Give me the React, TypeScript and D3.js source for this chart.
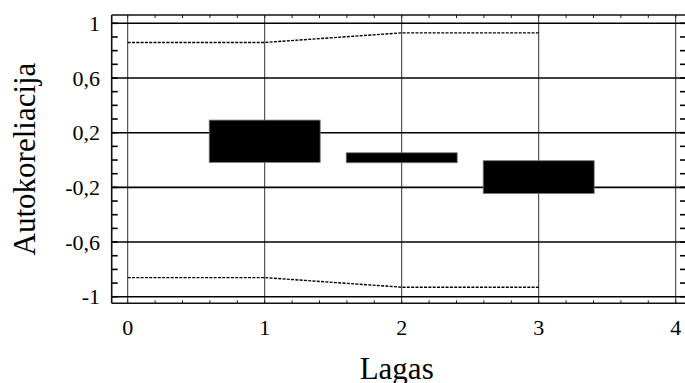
import React from "react";
import * as d3 from "d3";

// autocorrelation bars (bottom/top of each block)
const lags = [1, 2, 3];
const barLow = [-0.017, -0.02, -0.245];
const barHigh = [0.292, 0.053, -0.005];

// confidence limits (dotted lines)
const limitLags = [0, 1, 2, 3];
const upperLimit = [0.86, 0.86, 0.93, 0.93];
const lowerLimit = [-0.86, -0.86, -0.93, -0.93];

const xTicks = [0, 1, 2, 3, 4];
const yTicks = [1, 0.6, 0.2, -0.2, -0.6, -1];
const yTickLabels = ["1", "0,6", "0,2", "-0,2", "-0,6", "-1"];

const W = 685;
const H = 383;
const font = "'Liberation Serif', 'Times New Roman', serif";

const App = () => {
  const x = d3.scaleLinear().domain([0, 4]).range([127.7, 675.7]);
  const y = d3.scaleLinear().domain([-1, 1]).range([296.75, 23.3]);

  const frameL = 111.7;
  const frameT = 15;
  const frameB = 303.3;
  const frameR = 692;

  const line = d3
    .line<number>()
    .x((_, i) => x(limitLags[i]))
    .y((d) => y(d));

  const xMinor = d3.range(-0.4, 4.6, 0.2).filter((v) => x(v) > frameL + 1);
  const yMinor = d3.range(-1, 1.05, 0.1);

  return (
    <svg
      width={W}
      height={H}
      style={{ position: "absolute", left: 0, top: 0, background: "#fff" }}
    >
      {/* vertical grid */}
      <g stroke="#333" strokeWidth={1}>
        {xTicks.map((t) => (
          <line key={t} x1={x(t)} x2={x(t)} y1={frameT} y2={frameB} />
        ))}
      </g>

      {/* horizontal grid */}
      <g stroke="#000" strokeWidth={1.6}>
        {yTicks.map((t) => (
          <line key={t} x1={frameL} x2={frameR} y1={y(t)} y2={y(t)} />
        ))}
      </g>

      {/* x minor ticks, top and bottom */}
      <g stroke="#222" strokeWidth={1}>
        {xMinor.map((t, i) => (
          <g key={i}>
            <line x1={x(t)} x2={x(t)} y1={frameT} y2={frameT + 3} />
            <line x1={x(t)} x2={x(t)} y1={frameB} y2={frameB - 3} />
          </g>
        ))}
      </g>

      {/* y minor ticks */}
      <g stroke="#000" strokeWidth={1.6}>
        {yMinor.map((t, i) => (
          <g key={i}>
            <line x1={frameL} x2={frameL + 6} y1={y(t)} y2={y(t)} />
            <line x1={680} x2={686} y1={y(t)} y2={y(t)} />
          </g>
        ))}
      </g>

      {/* confidence limits */}
      <g fill="none" stroke="#000" strokeWidth={1.4} strokeDasharray="3,1.3">
        <path d={line(upperLimit) || ""} />
        <path d={line(lowerLimit) || ""} />
      </g>

      {/* bars */}
      <g fill="#000" stroke="#777" strokeWidth={0.8}>
        {lags.map((l, i) => (
          <rect
            key={l}
            x={x(l - 0.405)}
            width={x(l + 0.405) - x(l - 0.405)}
            y={y(barHigh[i])}
            height={y(barLow[i]) - y(barHigh[i])}
          />
        ))}
      </g>

      {/* frame */}
      <g stroke="#111" strokeWidth={1.6} fill="none">
        <line x1={frameL} x2={frameR} y1={frameT} y2={frameT} />
        <line x1={frameL} x2={frameR} y1={frameB} y2={frameB} />
        <line x1={frameL} x2={frameL} y1={frameT} y2={frameB} />
      </g>

      {/* tick labels */}
      <g fontFamily={font} fontSize={22} fill="#000">
        {yTicks.map((t, i) => (
          <text key={t} x={100} y={y(t)} dy="0.35em" textAnchor="end">
            {yTickLabels[i]}
          </text>
        ))}
        {xTicks.map((t) => (
          <text key={t} x={x(t)} y={335} textAnchor="middle">
            {t}
          </text>
        ))}
      </g>

      {/* axis titles */}
      <text
        x={x(2) - 5}
        y={379}
        textAnchor="middle"
        fontFamily={font}
        fontSize={31}
      >
        Lagas
      </text>
      <text
        transform={`translate(35,${y(0) - 1}) rotate(-90)`}
        textAnchor="middle"
        fontFamily={font}
        fontSize={31}
      >
        Autokoreliacija
      </text>
    </svg>
  );
};

export default App;
